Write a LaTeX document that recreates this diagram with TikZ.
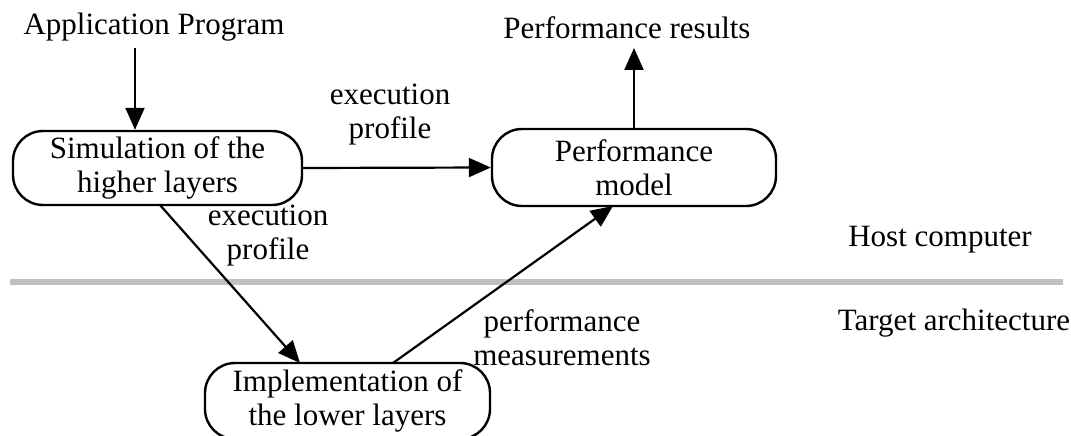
\documentclass[tikz,border=0pt]{standalone}
\usepackage{fontspec}
\setmainfont{Liberation Serif}
\usetikzlibrary{arrows.meta}
\begin{document}
\begin{tikzpicture}[x=1pt,y=-1pt,
  every node/.style={font=\fontsize{31}{34}\selectfont, align=center},
  box/.style={draw, line width=2.4pt, rounded corners=30pt, inner sep=0pt},
  lbl/.style={inner sep=0pt},
  arr/.style={line width=2.2pt, -{Triangle[length=22pt,width=19pt]}}]
\useasboundingbox (0,0) rectangle (1071,436);
\clip (0,0) rectangle (1071,436);
% separator
\draw[line width=5.5pt, color={rgb,255:red,192;green,192;blue,192}] (10,282) coordinate (g1) -- (1063,282) coordinate (g2);
% nodes
\node[box, minimum width=289pt, minimum height=74pt] (sim) at (157.5,168) {Simulation of the\\higher layers};
\node[box, minimum width=284pt, minimum height=77pt] (perf) at (634,167.5) {Performance\\model};
\node[box, minimum width=285pt, minimum height=76pt] (impl) at (347.5,401) {Implementation of\\the lower layers};
\node[lbl] (app) at (154,27) {Application Program};
\node[lbl] (res) at (627,28) {Performance results};
\node[lbl] (ep1) at (390,115) {execution\\profile};
\node[lbl] (ep2) at (268,236) {execution\\profile};
\node[lbl] (pm) at (562,338) {performance\\measurements};
\node[lbl] (host) at (940,240) {Host computer};
\node[lbl] (targ) at (954,323) {Target architecture};
% connectors
\coordinate (a1) at (135,48);
\draw[arr] (a1) -- (a1 |- sim.north);
\coordinate (r1) at (634,48);
\draw[arr] (perf.north) -- (r1);
\draw[arr] (sim.east) -- (perf.west);
\coordinate (s1) at (160,205);
\coordinate (i1) at (300,363);
\draw[arr] (s1) -- (i1);
\coordinate (i2) at (393,363);
\coordinate (p1) at (613,206);
\draw[arr] (i2) -- (p1);
\end{tikzpicture}
\end{document}
